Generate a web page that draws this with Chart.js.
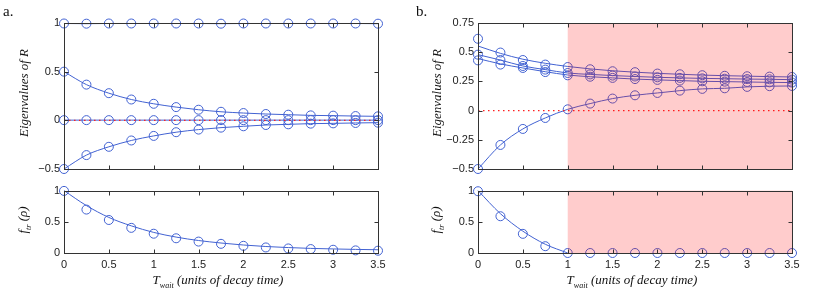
<!DOCTYPE html>
<html>
<head>
<meta charset="utf-8">
<script src="https://cdn.jsdelivr.net/npm/chart.js@4.4.1/dist/chart.umd.min.js"></script>
<style>
  body { margin: 0; background: #fff; }
  #wrap { position: relative; width: 830px; height: 294px; overflow: hidden; }
  canvas { position: absolute; }
  .lbl { position: absolute; font-family: "Liberation Serif", serif; color: #111; white-space: nowrap; }
  .ytitle { font-style: italic; font-size: 13px; transform: translate(-50%, -50%) rotate(-90deg); }
  .xtitle { font-style: italic; font-size: 13px; transform: translate(-50%, 0); }
  sub { font-size: 8px; }
</style>
</head>
<body>
<div id="wrap">
  <canvas id="aTop"></canvas>
  <canvas id="aBot"></canvas>
  <canvas id="bTop"></canvas>
  <canvas id="bBot"></canvas>
  <div class="lbl" style="left:3px;top:3px;font-size:15px;">a.</div>
  <div class="lbl" style="left:416px;top:3px;font-size:15px;">b.</div>
  <div class="lbl ytitle" style="left:24px;top:93px;">Eigenvalues of R</div>
  <div class="lbl ytitle" style="left:437px;top:93px;">Eigenvalues of R</div>
  <div class="lbl ytitle" style="left:24px;top:220px;">f<sub>tr</sub> (ρ)</div>
  <div class="lbl ytitle" style="left:437px;top:220px;">f<sub>tr</sub> (ρ)</div>
  <div class="lbl xtitle" style="left:218px;top:272px;">T<sub>wait</sub> (units of decay time)</div>
  <div class="lbl xtitle" style="left:632px;top:272px;">T<sub>wait</sub> (units of decay time)</div>
</div>
<script>
// waiting times (x axis)
const tWait = [0, 0.25, 0.5, 0.75, 1, 1.25, 1.5, 1.75, 2, 2.25, 2.5, 2.75, 3, 3.25, 3.5];

// panel a, eigenvalues
const aOne   = [0.995, 0.993, 0.995, 0.995, 0.995, 0.995, 0.995, 0.993, 0.995, 0.995, 0.995, 0.995, 0.995, 0.995, 0.993];
const aUpper = [0.5, 0.367, 0.279, 0.214, 0.17, 0.136, 0.109, 0.088, 0.075, 0.065, 0.058, 0.051, 0.048, 0.044, 0.041];
const aZero  = [0.002, 0.002, 0.002, 0.002, 0.002, 0.002, 0.002, 0.002, 0.002, 0.002, 0.002, 0.002, 0.002, 0.002, 0.002];
const aLower = [-0.5, -0.357, -0.272, -0.207, -0.16, -0.122, -0.095, -0.075, -0.061, -0.048, -0.041, -0.034, -0.031, -0.027, -0.024];

// panel a, f_tr
const aFid    = [0.995, 0.696, 0.529, 0.403, 0.309, 0.236, 0.183, 0.147, 0.115, 0.089, 0.073, 0.063, 0.052, 0.042, 0.037];
const aFidFit = [1, 0.76, 0.57, 0.435, 0.33, 0.255, 0.2, 0.16, 0.128, 0.104, 0.087, 0.074, 0.065, 0.058, 0.052];

// panel b, eigenvalues
const bA    = [0.615, 0.497, 0.433, 0.394, 0.373, 0.354, 0.337, 0.329, 0.317, 0.311, 0.303, 0.298, 0.294, 0.291, 0.288];
const bAFit = [0.553, 0.49, 0.44, 0.405, 0.378, 0.357, 0.341, 0.329, 0.319, 0.311, 0.304, 0.299, 0.295, 0.291, 0.288];
const bB    = [0.479, 0.433, 0.382, 0.351, 0.322, 0.31, 0.3, 0.292, 0.285, 0.28, 0.276, 0.273, 0.27, 0.268, 0.265];
const bC    = [0.43, 0.394, 0.365, 0.33, 0.302, 0.29, 0.28, 0.27, 0.263, 0.257, 0.251, 0.248, 0.245, 0.242, 0.24];
const bCFit = [0.445, 0.4, 0.365, 0.333, 0.305, 0.29, 0.28, 0.27, 0.263, 0.257, 0.251, 0.248, 0.245, 0.242, 0.24];
const bD    = [-0.5, -0.294, -0.157, -0.063, 0.011, 0.06, 0.103, 0.131, 0.151, 0.171, 0.186, 0.191, 0.203, 0.209, 0.211];

// panel b, f_tr
const bFid    = [0.99, 0.589, 0.307, 0.109, 0, 0, 0, 0, 0, 0, 0, 0, 0, 0, 0];
const bFidFit = [1, 0.63, 0.35, 0.14, 0, null, null, null, null, null, null, null, null, null, null];

// shaded region in panel b
const shadeFrom = 1;
const shadeTo = 3.5;

const blue = "#4262d2";
const tickFont = { family: "Liberation Sans", size: 11 };

function pts(ys) {
  return tWait.map((x, i) => ({ x: x, y: ys[i] }));
}

function circles(ys) {
  return {
    data: pts(ys), showLine: false, borderColor: blue, backgroundColor: "rgba(0,0,0,0)",
    pointRadius: 4.5, pointBorderWidth: 1, clip: false, order: 2
  };
}

function curve(ys) {
  return {
    data: pts(ys), showLine: true, borderColor: blue, borderWidth: 1, pointRadius: 0,
    tension: 0.4, cubicInterpolationMode: "monotone", clip: false, order: 2
  };
}

function both(ys) {
  const d = curve(ys);
  d.pointRadius = 4.5;
  d.pointBorderWidth = 1;
  d.pointBackgroundColor = "rgba(0,0,0,0)";
  d.pointBorderColor = blue;
  return d;
}

const zeroLine = {
  data: [{ x: 0, y: 0 }, { x: 3.5, y: 0 }], showLine: true, borderColor: "#ff2020",
  borderWidth: 1.3, borderDash: [1.5, 3.5], pointRadius: 0, order: 1
};

// MATLAB-like box with inward ticks, plus optional transparent shading
const boxPlugin = {
  id: "box",
  afterDatasetsDraw(chart, args, opts) {
    if (!opts.shade) return;
    const ctx = chart.ctx, a = chart.chartArea, x = chart.scales.x;
    const x0 = x.getPixelForValue(shadeFrom), x1 = x.getPixelForValue(shadeTo);
    ctx.save();
    ctx.fillStyle = "rgba(255,0,0,0.2)";
    ctx.fillRect(x0, a.top, x1 - x0, a.bottom - a.top);
    ctx.restore();
  },
  afterDraw(chart) {
    const ctx = chart.ctx, a = chart.chartArea;
    const sx = chart.scales.x, sy = chart.scales.y;
    const L = Math.round(a.left) + 0.5, R = Math.round(a.right) + 0.5;
    const T = Math.round(a.top) + 0.5, B = Math.round(a.bottom) + 0.5;
    ctx.save();
    ctx.strokeStyle = "#333";
    ctx.lineWidth = 1;
    ctx.strokeRect(L, T, R - L, B - T);
    ctx.beginPath();
    sx.ticks.forEach(t => {
      const p = Math.round(sx.getPixelForValue(t.value)) + 0.5;
      ctx.moveTo(p, B); ctx.lineTo(p, B - 4);
      ctx.moveTo(p, T); ctx.lineTo(p, T + 4);
    });
    sy.ticks.forEach(t => {
      const p = Math.round(sy.getPixelForValue(t.value)) + 0.5;
      ctx.moveTo(L, p); ctx.lineTo(L + 4, p);
      ctx.moveTo(R, p); ctx.lineTo(R - 4, p);
    });
    ctx.stroke();
    ctx.restore();
  }
};

function fmt(v) {
  return String(Math.round(v * 100) / 100).replace("-", "\u2212");
}

function makeChart(id, left, top, width, height, cfg) {
  const cv = document.getElementById(id);
  cv.style.left = left + "px";
  cv.style.top = top + "px";
  cv.width = width;
  cv.height = height;
  return new Chart(cv, {
    type: "scatter",
    data: { datasets: cfg.datasets },
    options: {
      responsive: false,
      animation: false,
      devicePixelRatio: 1,
      layout: { padding: cfg.padding },
      plugins: { legend: { display: false }, tooltip: { enabled: false }, box: { shade: cfg.shade } },
      scales: {
        x: {
          type: "linear", min: 0, max: 3.5,
          grid: { display: false, drawTicks: false }, border: { display: false },
          ticks: { display: cfg.xLabels, stepSize: 0.5, padding: 5, font: tickFont, color: "#222", maxRotation: 0, callback: fmt },
          afterFit(s) { s.height = cfg.xHeight; }
        },
        y: {
          min: cfg.yMin, max: cfg.yMax,
          grid: { display: false, drawTicks: false }, border: { display: false },
          ticks: { stepSize: cfg.yStep, padding: 4, font: tickFont, color: "#222", callback: fmt },
          afterFit(s) { s.width = cfg.yWidth; }
        }
      }
    },
    plugins: [boxPlugin]
  });
}

// panel a, top
makeChart("aTop", 0, 0, 410, 180, {
  datasets: [zeroLine, both(aOne), both(aUpper), both(aZero), both(aLower)],
  padding: { left: 0, top: 23, right: 32, bottom: 11 },
  yMin: -0.5, yMax: 1, yStep: 0.5, yWidth: 64, xLabels: false, xHeight: 0, shade: false
});

// panel a, bottom
makeChart("aBot", 0, 180, 410, 114, {
  datasets: [curve(aFidFit), circles(aFid)],
  padding: { left: 0, top: 9, right: 32, bottom: 21 },
  yMin: 0, yMax: 1, yStep: 0.5, yWidth: 64, xLabels: true, xHeight: 20, shade: false
});

// panel b, top
makeChart("bTop", 410, 0, 420, 180, {
  datasets: [zeroLine, curve(bAFit), circles(bA), both(bB), curve(bCFit), circles(bC), both(bD)],
  padding: { left: 0, top: 23, right: 38, bottom: 11 },
  yMin: -0.5, yMax: 0.75, yStep: 0.25, yWidth: 68, xLabels: false, xHeight: 0, shade: true
});

// panel b, bottom
makeChart("bBot", 410, 180, 420, 114, {
  datasets: [curve(bFidFit), circles(bFid)],
  padding: { left: 0, top: 9, right: 38, bottom: 21 },
  yMin: 0, yMax: 1, yStep: 0.5, yWidth: 68, xLabels: true, xHeight: 20, shade: true
});
</script>
</body>
</html>
